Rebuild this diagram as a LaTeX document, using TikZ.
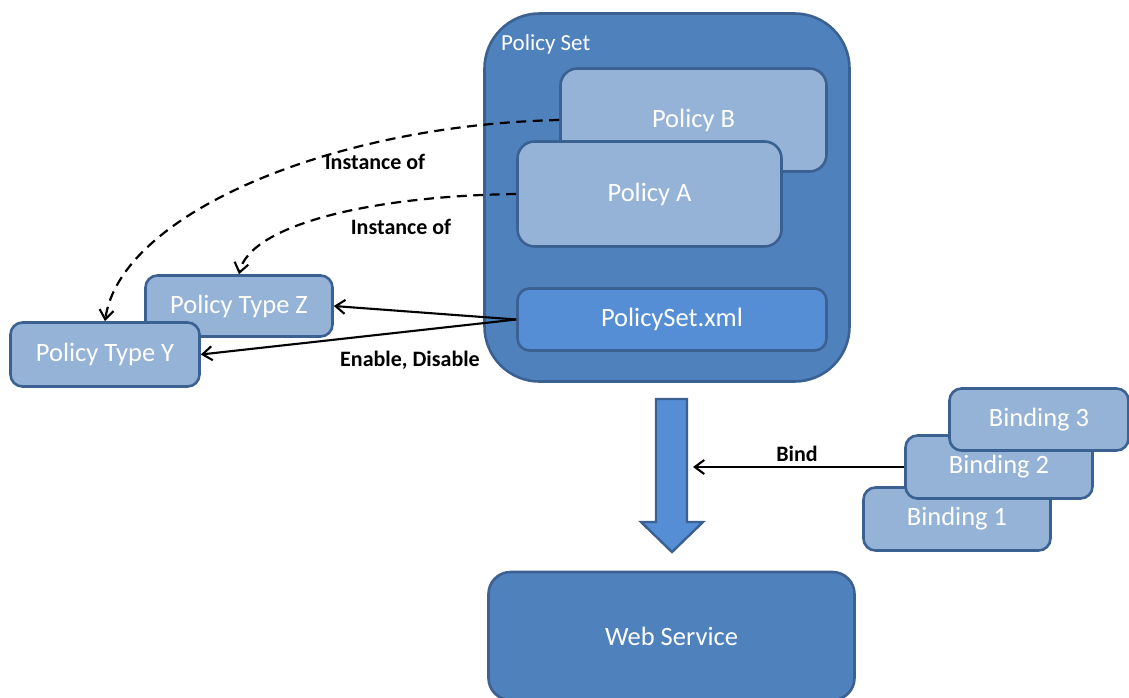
\documentclass[tikz,border=0pt]{standalone}
\usepackage{fontspec}
\setmainfont{Carlito}
\usetikzlibrary{arrows.meta}
\definecolor{setblue}{HTML}{4F81BD}
\definecolor{edgeblue}{HTML}{3B6193}
\definecolor{paleblue}{HTML}{95B3D7}
\definecolor{midblue}{HTML}{558ED5}
\tikzset{
  box/.style={draw=edgeblue, line width=2.6pt, rounded corners=#1, text=white,
    font=\fontsize{26.5}{31}\selectfont, inner sep=0pt},
  box/.default=14pt,
  palebox/.style={box=#1, fill=paleblue},
  palebox/.default=14pt,
  lbl/.style={font=\bfseries\fontsize{22}{26}\selectfont, inner sep=0pt, text=black},
  link/.style={line width=2.1pt, -{Straight Barb[length=9.5pt,width=14pt,line width=2.1pt]}},
  inst/.style={link, line width=2.2pt, dash pattern=on 10pt off 6.5pt}
}
\begin{document}
\begin{tikzpicture}[x=1pt,y=-1pt]
\useasboundingbox (0,0) rectangle (1129,697);

% policy set container and its members
\node[box=55pt, fill=setblue, minimum width=365pt, minimum height=368pt] (pset) at (667,197.5) {};
\node[font=\fontsize{23}{27}\selectfont, text=white, anchor=west, inner sep=0pt] (psetlbl) at (501,44) {Policy Set};
\node[palebox=17pt, minimum width=266pt, minimum height=103pt] (pB) at (693.5,120) {Policy B};
\node[palebox=17pt, minimum width=264pt, minimum height=105pt] (pA) at (649.5,194) {Policy A};
\node[box=12pt, fill=midblue, minimum width=309pt, minimum height=62pt] (xml) at (672,319.5) {PolicySet.xml};

% policy types
\node[palebox=12pt, minimum width=187pt, minimum height=61pt] (pZ) at (239,306) {Policy Type Z};
\node[palebox=12pt, minimum width=189pt, minimum height=64pt] (pY) at (105,354.5) {Policy Type Y};

% bindings, stacked back to front
\node[palebox=12pt, minimum width=187pt, minimum height=63pt] (b1) at (957,519) {Binding 1};
\node[palebox=12pt, minimum width=187pt, minimum height=63pt] (b2) at (999,467) {Binding 2};
\node[palebox=12pt, minimum width=179pt, minimum height=62pt] (b3) at (1039,419.5) {Binding 3};

% web service
\node[box=22pt, fill=setblue, minimum width=366pt, minimum height=128pt] (ws) at (671.5,636) {Web Service};

% block arrow from the policy set down to the web service
\draw[draw=edgeblue, fill=midblue, line width=2.4pt, line join=miter]
  (656,399) -- (687,399) -- (687,522) -- (703,522) -- (672,552) -- (641,522) -- (656,522) -- cycle;
\coordinate (flowR) at (693,467);

% instance-of relations
\draw[inst] (pB.west) .. controls (330,125) and (120,215) .. (pY.north);
\draw[inst] (pA.west) .. controls (370,196) and (250,225) .. (pZ.north);
\node[lbl] (inst1) at (375,162) {Instance of};
\node[lbl] (inst2) at (401,227) {Instance of};

% enable / disable relations
\draw[link] (xml.west) -- (pZ.east);
\draw[link] (xml.west) -- (pY.east);
\node[lbl] (endis) at (410,360) {Enable, Disable};

% binding relation
\draw[link] (b2.west) -- (flowR);
\node[lbl] (bind) at (797,454) {Bind};
\end{tikzpicture}
\end{document}
